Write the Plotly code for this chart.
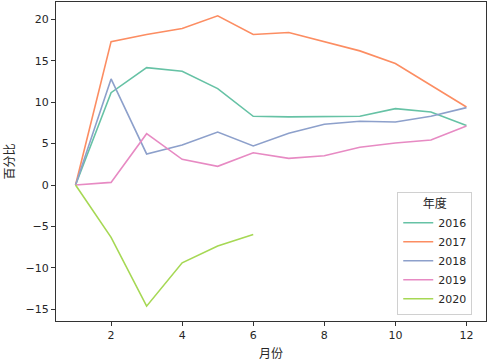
import plotly.graph_objects as go

months = list(range(1, 13))
years = ["2016", "2017", "2018", "2019", "2020"]
v2016 = [0, 11.15, 14.17, 13.73, 11.64, 8.30, 8.22, 8.22, 8.30, 9.22, 8.82, 7.17]
v2017 = [0, 17.31, 18.16, 18.89, 20.42, 18.16, 18.40, 17.30, 16.19, 14.66, 12.05, 9.42]
v2018 = [0, 12.81, 3.75, 4.83, 6.40, 4.71, 6.24, 7.33, 7.70, 7.61, 8.30, 9.34]
v2019 = [0, 0.32, 6.20, 3.10, 2.26, 3.90, 3.22, 3.54, 4.55, 5.07, 5.44, 7.13]
v2020 = [0, -6.32, -14.62, -9.39, -7.37, -5.96]
series = [v2016, v2017, v2018, v2019, v2020]
colors = ["#66c2a5", "#fc8d62", "#8da0cb", "#e78ac3", "#a6d854"]
x_ticks = [2, 4, 6, 8, 10, 12]
y_ticks = [-15, -10, -5, 0, 5, 10, 15, 20]

fig = go.Figure()
for name, vals, c in zip(years, series, colors):
    fig.add_trace(go.Scatter(x=months[:len(vals)], y=vals, mode="lines", name=name,
                             line=dict(color=c, width=1.6)))

axis_common = dict(showgrid=False, zeroline=False, showline=True, linecolor="#333333",
                   linewidth=1.3, mirror=True, ticks="outside", ticklen=4, tickwidth=1.2,
                   tickcolor="#333333", automargin=False,
                   tickfont=dict(family="DejaVu Sans", size=11, color="#262626"))

fig.update_layout(
    width=502, height=363,
    margin=dict(l=56, r=16, t=2, b=42),
    paper_bgcolor="white", plot_bgcolor="white",
    font=dict(family="Noto Sans CJK SC", color="#262626"),
    xaxis=dict(range=[0.45, 12.55], tickvals=x_ticks,
               title=dict(text="月份", font=dict(family="Noto Sans CJK SC", size=12), standoff=8),
               **axis_common),
    yaxis=dict(range=[-16.41, 22.09], tickvals=y_ticks,
               title=dict(text="百分比", font=dict(family="Noto Sans CJK SC", size=12), standoff=8),
               **axis_common),
    legend=dict(x=0.968, y=0.02, xanchor="right", yanchor="bottom",
                bordercolor="#d0d0d0", borderwidth=1, bgcolor="rgba(255,255,255,0.8)",
                font=dict(family="DejaVu Sans", size=11, color="#262626"),
                title=dict(text="年度", side="top center", font=dict(family="Noto Sans CJK SC", size=12)),
                tracegroupgap=0, itemwidth=30),
    showlegend=True,
)
fig.update_yaxes(tickformat="d")
fig.write_html("out.html", config={"displayModeBar": False},
               post_script="document.body.style.margin='0';document.body.style.padding='0';")
